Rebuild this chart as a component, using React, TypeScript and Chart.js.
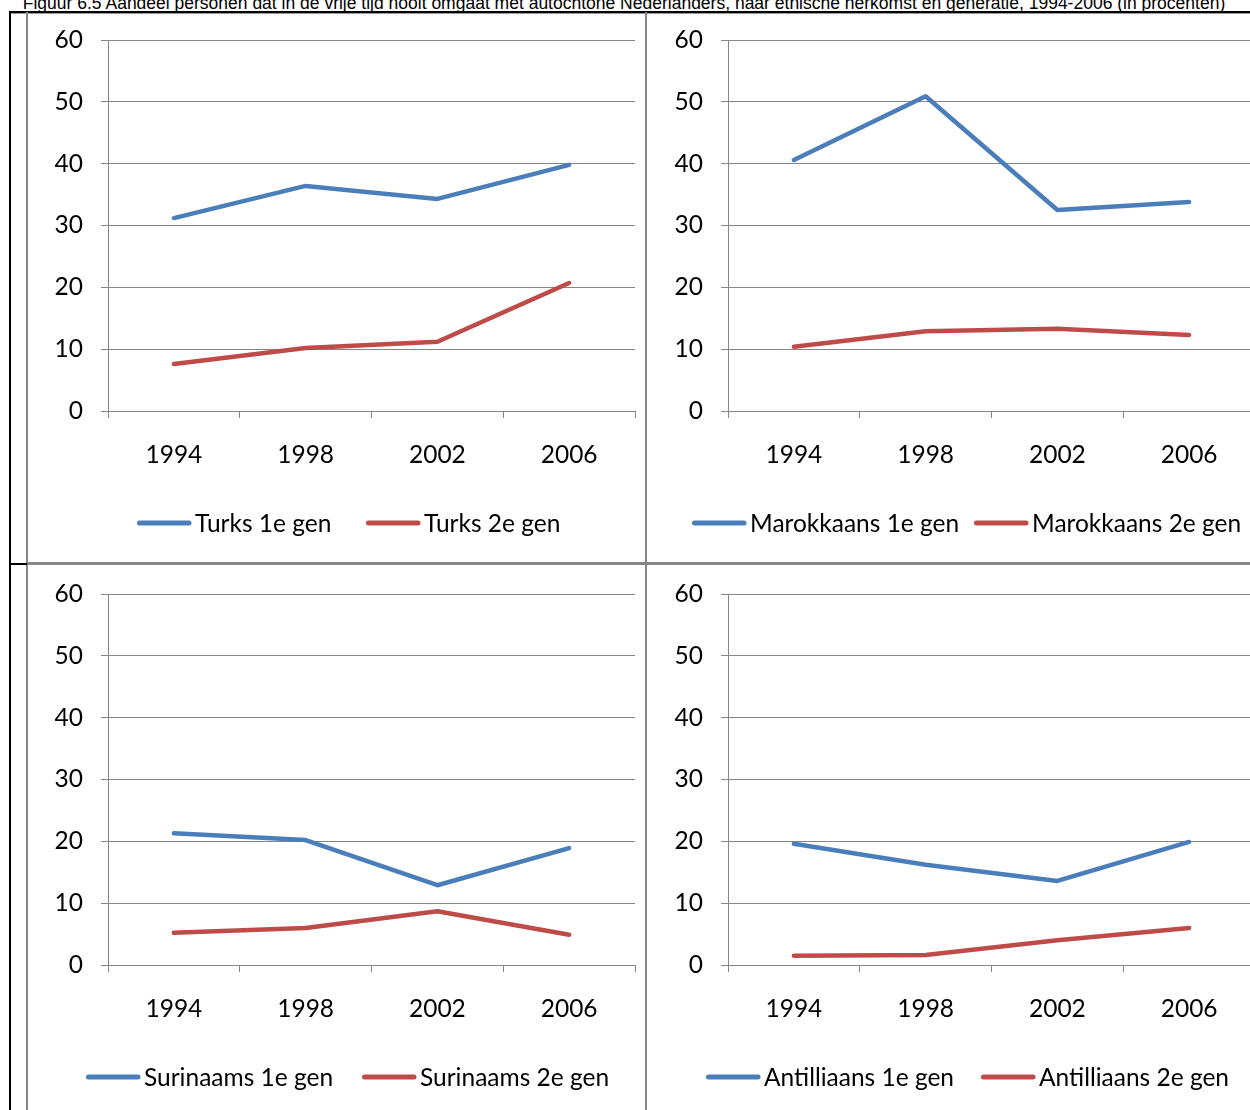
import React, { useEffect, useRef } from "react";
import { Chart, registerables } from "chart.js";

Chart.register(...registerables);

const TITLE =
  "Figuur 6.5 Aandeel personen dat in de vrije tijd nooit omgaat met autochtone Nederlanders, naar etnische herkomst en generatie, 1994-2006 (in procenten)";

const years = ["1994", "1998", "2002", "2006"];
const yMin = 0;
const yMax = 60;
const yStep = 10;

const turksNames = ["Turks 1e gen", "Turks 2e gen"];
const turks1 = [31.2, 36.4, 34.3, 39.8];
const turks2 = [7.6, 10.2, 11.2, 20.7];

const marokNames = ["Marokkaans 1e gen", "Marokkaans 2e gen"];
const marok1 = [40.6, 50.9, 32.5, 33.8];
const marok2 = [10.4, 12.9, 13.3, 12.3];

const surinNames = ["Surinaams 1e gen", "Surinaams 2e gen"];
const surin1 = [21.3, 20.2, 12.9, 18.9];
const surin2 = [5.2, 6.0, 8.7, 4.9];

const antilNames = ["Antilliaans 1e gen", "Antilliaans 2e gen"];
const antil1 = [19.6, 16.2, 13.6, 19.9];
const antil2 = [1.5, 1.6, 4.0, 6.0];

const BLUE = "#4a7ebb";
const RED = "#be4b48";
const GRID = "#868686";
const FONT = "Lato, 'Noto Sans', sans-serif";
const FONT_SIZE = 24.5;

const AREA_LEFT = 80;
const AREA_WIDTH = 527;
const AREA_TOP = 26;
const AREA_BOTTOM = 397;
const LEGEND_Y = 509;

type PanelProps = {
  left: number;
  top: number;
  width: number;
  height: number;
  names: string[];
  d1: number[];
  d2: number[];
  legendX: number[];
};

function Panel({ left, top, width, height, names, d1, d2, legendX }: PanelProps) {
  const ref = useRef<HTMLCanvasElement>(null);
  useEffect(() => {
    const legendPlugin = {
      id: "customLegend",
      afterDraw(chart: any) {
        const ctx = chart.ctx as CanvasRenderingContext2D;
        ctx.save();
        chart.data.datasets.forEach((ds: any, i: number) => {
          const x = legendX[i];
          ctx.strokeStyle = ds.borderColor;
          ctx.lineWidth = 5;
          ctx.lineCap = "round";
          ctx.beginPath();
          ctx.moveTo(x + 2.5, LEGEND_Y);
          ctx.lineTo(x + 52, LEGEND_Y);
          ctx.stroke();
          ctx.fillStyle = "#000";
          ctx.font = `${FONT_SIZE}px ${FONT}`;
          ctx.textBaseline = "middle";
          ctx.textAlign = "left";
          ctx.fillText(ds.label, x + 58, LEGEND_Y + 1);
        });
        ctx.restore();
      },
    };
    const mk = (label: string, data: number[], color: string) => ({
      label,
      data,
      borderColor: color,
      backgroundColor: color,
      borderWidth: 4.5,
      pointRadius: 0,
      pointHoverRadius: 0,
      borderCapStyle: "round" as const,
      borderJoinStyle: "round" as const,
      tension: 0,
      fill: false,
    });
    const chart = new Chart(ref.current!, {
      type: "line",
      data: {
        labels: years,
        datasets: [mk(names[0], d1, BLUE), mk(names[1], d2, RED)],
      },
      options: {
        animation: false,
        responsive: false,
        maintainAspectRatio: false,
        devicePixelRatio: 1,
        events: [],
        layout: {
          padding: {
            left: 0,
            right: width - AREA_LEFT - AREA_WIDTH,
            top: AREA_TOP,
            bottom: 0,
          },
        },
        scales: {
          x: {
            type: "category",
            offset: true,
            grid: {
              offset: true,
              drawOnChartArea: false,
              drawTicks: true,
              tickLength: 7,
              color: GRID,
              lineWidth: 1,
            },
            border: { color: GRID, width: 1 },
            ticks: {
              color: "#000",
              font: { family: FONT, size: FONT_SIZE },
              padding: 22,
              maxRotation: 0,
              autoSkip: false,
            },
            afterFit: (s: any) => {
              s.height = height - AREA_BOTTOM;
              s.paddingLeft = 0;
              s.paddingRight = 0;
            },
          },
          y: {
            min: yMin,
            max: yMax,
            ticks: {
              stepSize: yStep,
              color: "#000",
              font: { family: FONT, size: FONT_SIZE },
              padding: 18,
            },
            grid: { color: GRID, tickLength: 7, lineWidth: 1 },
            border: { color: GRID, width: 1 },
            afterFit: (s: any) => {
              s.width = AREA_LEFT;
              s.paddingTop = 0;
              s.paddingBottom = 0;
            },
          },
        },
        plugins: {
          legend: { display: false },
          tooltip: { enabled: false },
          title: { display: false },
        },
      } as any,
      plugins: [legendPlugin],
    });
    return () => chart.destroy();
  }, []);
  return (
    <canvas
      ref={ref}
      width={width}
      height={height}
      style={{ position: "absolute", left, top, width, height, display: "block" }}
    />
  );
}

const line = (left: number, top: number, width: number, height: number, color: string) => (
  <div style={{ position: "absolute", left, top, width, height, background: color }} />
);

export default function App() {
  return (
    <div
      style={{
        position: "absolute",
        left: 0,
        top: 0,
        width: 1250,
        height: 1110,
        overflow: "hidden",
        background: "#fff",
      }}
    >
      <div
        style={{
          position: "absolute",
          left: 0,
          width: 1248,
          top: -6,
          textAlign: "center",
          fontFamily: "'Liberation Sans', Arial, sans-serif",
          fontSize: 17.5,
          lineHeight: "18px",
          whiteSpace: "nowrap",
          color: "#000",
        }}
      >
        {TITLE}
      </div>
      <Panel left={28} top={14} width={617} height={545} names={turksNames} d1={turks1} d2={turks2} legendX={[109, 338]} />
      <Panel left={648} top={14} width={620} height={545} names={marokNames} d1={marok1} d2={marok2} legendX={[44, 326]} />
      <Panel left={28} top={568} width={617} height={545} names={surinNames} d1={surin1} d2={surin2} legendX={[58, 334]} />
      <Panel left={648} top={568} width={620} height={545} names={antilNames} d1={antil1} d2={antil2} legendX={[58, 333]} />
      {line(9, 11, 1241, 2, "#000")}
      {line(9, 13, 1241, 1, "#9a9a9a")}
      {line(9, 11, 2, 1099, "#000")}
      {line(26, 12, 2, 1098, GRID)}
      {line(645, 12, 2, 1098, GRID)}
      {line(9, 563, 637, 2, "#000")}
      {line(27, 562, 1223, 3, GRID)}
    </div>
  );
}
